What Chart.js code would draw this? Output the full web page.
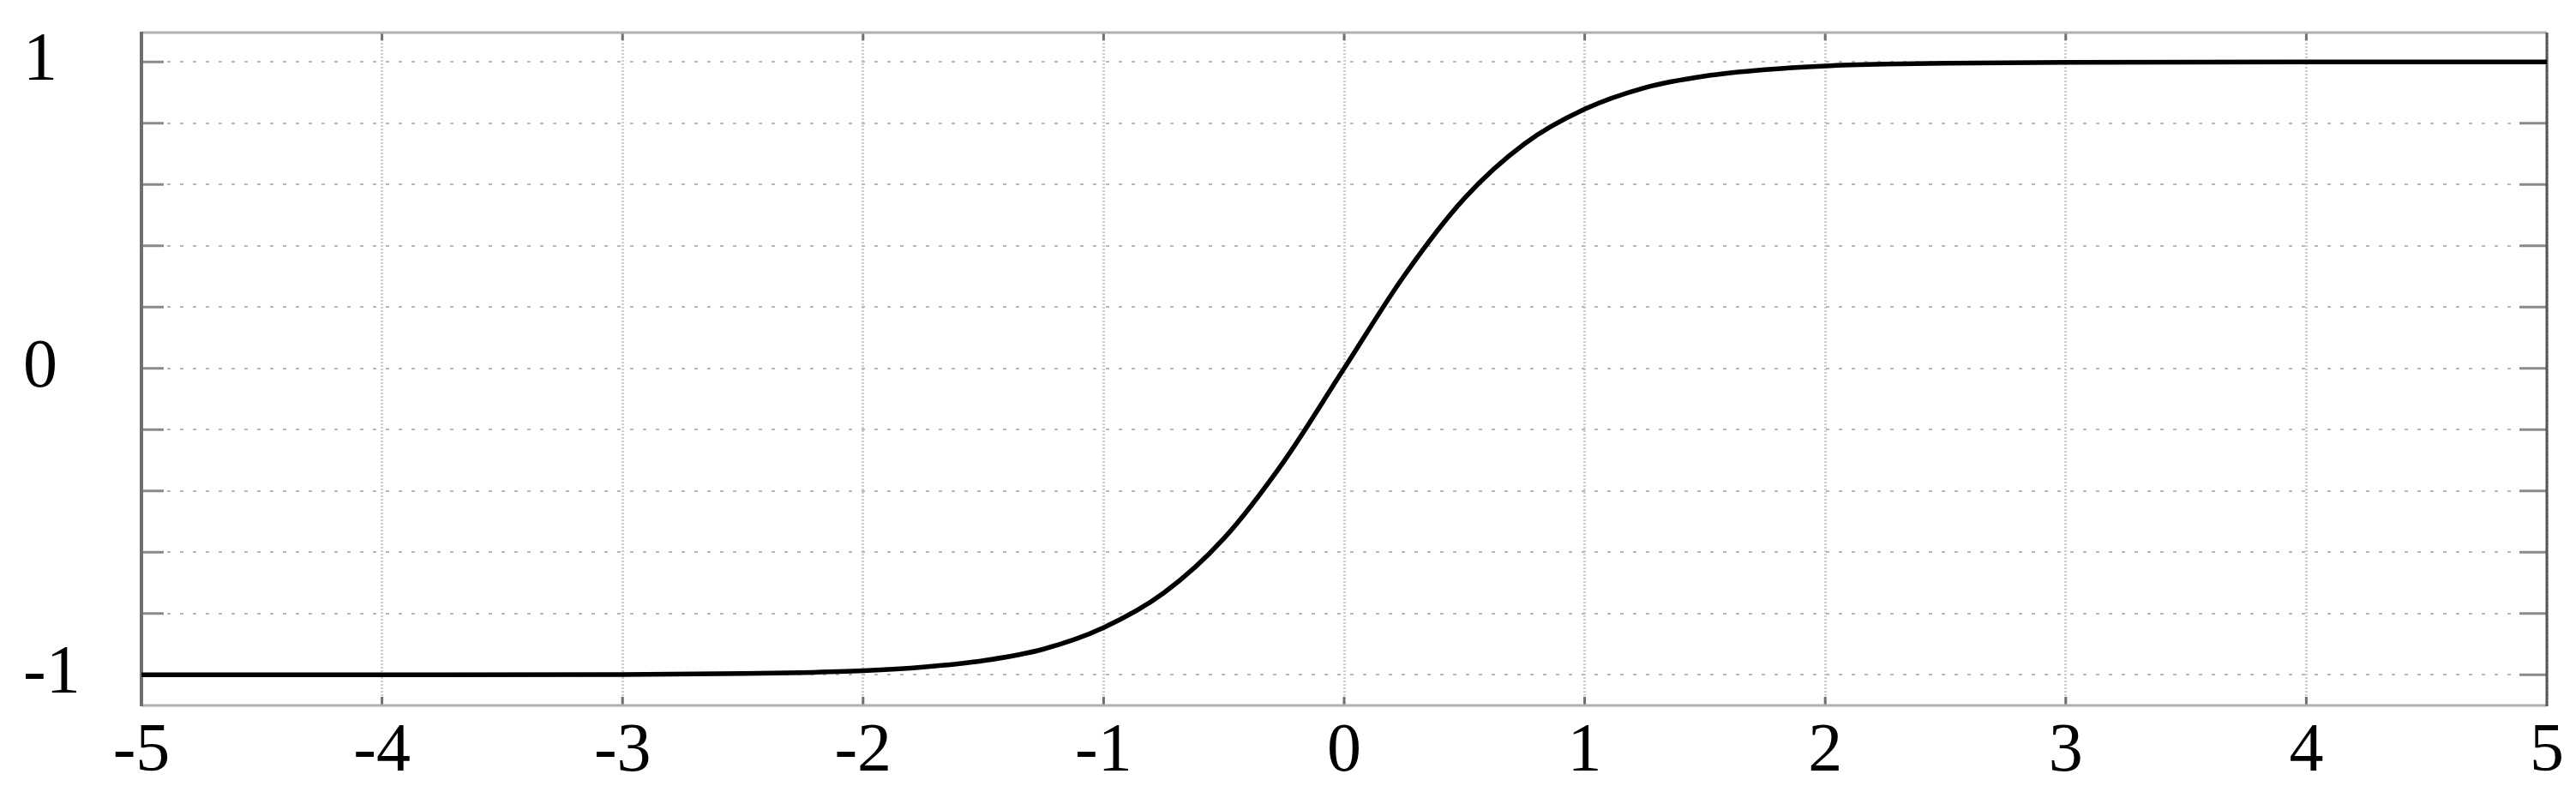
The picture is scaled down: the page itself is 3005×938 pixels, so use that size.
<!DOCTYPE html>
<html>
<head>
<meta charset="utf-8">
<script src="https://cdn.jsdelivr.net/npm/chart.js@4.4.1/dist/chart.umd.min.js"></script>
<style>
  html, body { margin: 0; padding: 0; background: #fff; }
  canvas { display: block; }
</style>
</head>
<body>
<canvas id="curve" width="3005" height="938"></canvas>
<script>
// points
let xValues = [-5, -4, -3, -2.5, -2.25, -2, -1.75, -1.5, -1.25, -1, -0.75, -0.5, -0.25, 0,
               0.25, 0.5, 0.75, 1, 1.25, 1.5, 1.75, 2, 2.25, 2.5, 3, 4, 5];
let yValues = [-1.000, -1.000, -0.999, -0.996, -0.993, -0.987, -0.975, -0.954, -0.916, -0.846, -0.733, -0.555, -0.303, 0,
               0.303, 0.555, 0.733, 0.846, 0.916, 0.954, 0.975, 0.987, 0.993, 0.996, 0.999, 1.000, 1.000];
let yGrid = [-1, -0.8, -0.6, -0.4, -0.2, 0, 0.2, 0.4, 0.6, 0.8, 1];
let yLabelled = [-1, 0, 1];

let pts = [];
for (let i = 0; i < xValues.length; i++) {
    pts.push({x: xValues[i], y: yValues[i]});
}

// frame round the plot and the short inner tick marks
const framePlugin = {
    id: 'frame',
    beforeDatasetsDraw(chart) {
        const ctx = chart.ctx;
        const a = chart.chartArea;
        const xs = chart.scales.x, ys = chart.scales.y;
        ctx.save();
        ctx.strokeStyle = '#8a8a8a';
        ctx.lineWidth = 3;
        yGrid.forEach(v => {
            const py = ys.getPixelForValue(v);
            ctx.beginPath();
            ctx.moveTo(a.left, py); ctx.lineTo(a.left + 26, py);
            ctx.moveTo(a.right, py); ctx.lineTo(a.right - 32, py);
            ctx.stroke();
        });
        ctx.strokeStyle = '#707070';
        for (let v = -4; v <= 4; v++) {
            const px = xs.getPixelForValue(v);
            ctx.beginPath();
            ctx.moveTo(px, a.top); ctx.lineTo(px, a.top + 9);
            ctx.moveTo(px, a.bottom); ctx.lineTo(px, a.bottom - 10);
            ctx.stroke();
        }
        // borders
        ctx.lineWidth = 3;
        ctx.strokeStyle = '#b0b0b0';
        ctx.beginPath();
        ctx.moveTo(a.left, a.top); ctx.lineTo(a.right, a.top);
        ctx.moveTo(a.left, a.bottom); ctx.lineTo(a.right, a.bottom);
        ctx.stroke();
        ctx.lineWidth = 4;
        ctx.strokeStyle = '#6e6e6e';
        ctx.beginPath();
        ctx.moveTo(a.left, a.top - 1); ctx.lineTo(a.left, a.bottom + 1);
        ctx.stroke();
        ctx.lineWidth = 3;
        ctx.strokeStyle = '#555555';
        ctx.beginPath();
        ctx.moveTo(a.right, a.top); ctx.lineTo(a.right, a.bottom + 1);
        ctx.stroke();
        ctx.restore();
    }
};

const labelFont = {family: '"Liberation Serif", "Times New Roman", serif', size: 80};

new Chart(document.getElementById('curve').getContext('2d'), {
    type: 'line',
    data: {
        datasets: [{
            data: pts,
            borderColor: '#000',
            borderWidth: 5.5,
            pointRadius: 0,
            fill: false,
            cubicInterpolationMode: 'monotone'
        }]
    },
    options: {
        responsive: false,
        animation: false,
        devicePixelRatio: 1,
        layout: {padding: {left: 27, right: 34, top: 38, bottom: 0}},
        plugins: {legend: {display: false}, tooltip: {enabled: false}},
        scales: {
            x: {
                type: 'linear',
                min: -5,
                max: 5,
                ticks: {
                    stepSize: 1,
                    color: '#000',
                    font: labelFont,
                    padding: 7,
                    maxRotation: 0,
                    autoSkip: false,
                    callback: v => String(v)
                },
                grid: {color: '#cfcfcf', lineWidth: 3, drawTicks: false},
                border: {display: false, dash: [2, 2]},
                afterFit(scale) { scale.height = 115; }
            },
            y: {
                type: 'linear',
                min: -1.1,
                max: 1.096,
                afterBuildTicks(scale) {
                    scale.ticks = yGrid.map(v => ({value: v}));
                },
                ticks: {
                    color: '#000',
                    font: labelFont,
                    crossAlign: 'far',
                    autoSkip: false,
                    callback: v => yLabelled.includes(v) ? String(v) : ''
                },
                grid: {color: '#b8b8b8', lineWidth: 2, drawTicks: false},
                border: {display: false, dash: [4, 11]},
                afterFit(scale) {
                    scale.width = 138;
                    scale.paddingTop = 0;
                    scale.paddingBottom = 0;
                }
            }
        }
    },
    plugins: [framePlugin]
});
</script>
</body>
</html>
